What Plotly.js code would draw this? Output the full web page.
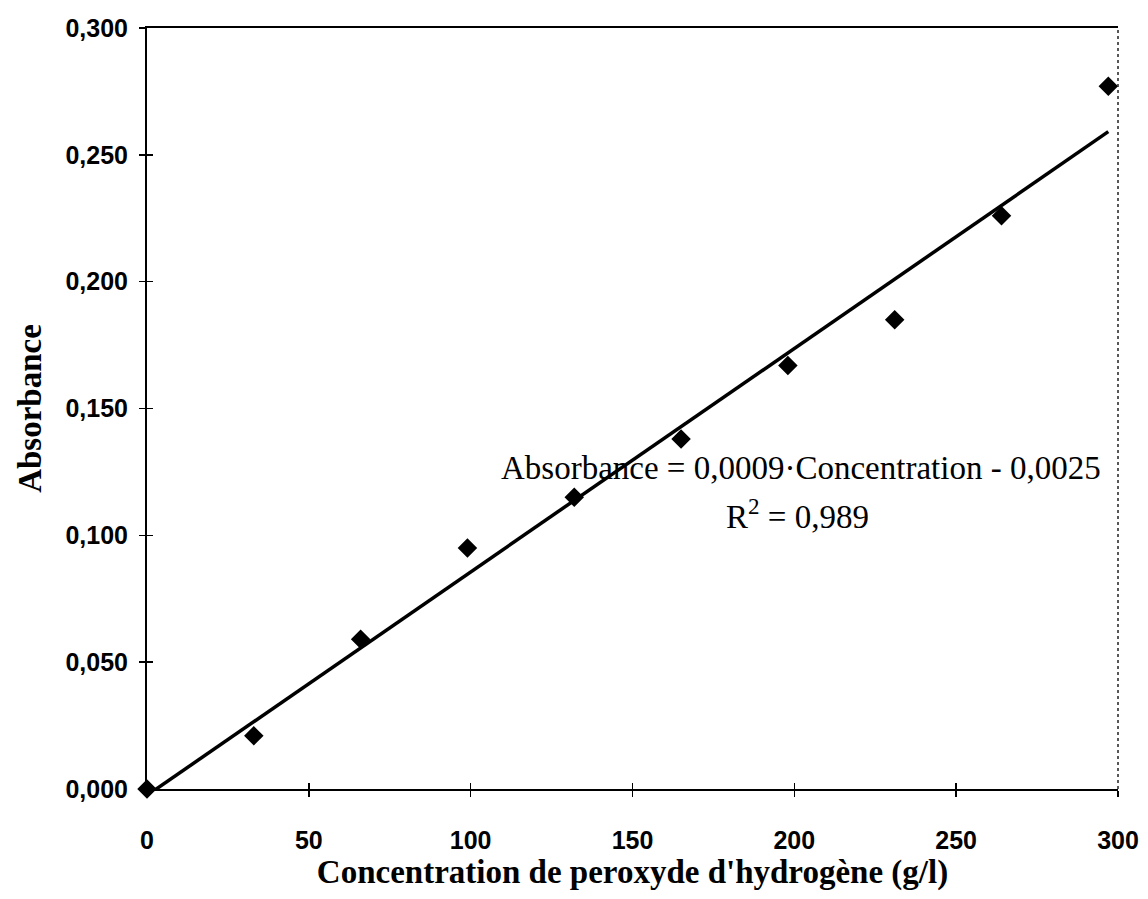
<!DOCTYPE html>
<html>
<head>
<meta charset="utf-8">
<script src="https://cdn.plot.ly/plotly-3.0.1.min.js"></script>
<style>html,body{margin:0;padding:0;background:#fff;}#chart{width:1148px;height:899px;}</style>
</head>
<body>
<div id="chart"></div>
<script>
// Data
var concentration = [0, 33, 66, 99, 132, 165, 198, 231, 264, 297];
var absorbance = [0.000, 0.021, 0.059, 0.095, 0.115, 0.138, 0.167, 0.185, 0.226, 0.277];
var xTickVals = [0, 50, 100, 150, 200, 250, 300];
var yTickVals = [0, 0.05, 0.10, 0.15, 0.20, 0.25, 0.30];
var equationText = "Absorbance = 0,0009·Concentration - 0,0025";
var r2Text = "R<sup>2</sup> = 0,989";
var xTitle = "Concentration de peroxyde d'hydrogène (g/l)";
var yTitle = "Absorbance";

// Least-squares linear trendline from the data
var n = concentration.length, sx = 0, sy = 0, sxx = 0, sxy = 0;
for (var i = 0; i < n; i++) {
  sx += concentration[i]; sy += absorbance[i];
  sxx += concentration[i] * concentration[i];
  sxy += concentration[i] * absorbance[i];
}
var slope = (n * sxy - sx * sy) / (n * sxx - sx * sx);
var intercept = (sy - slope * sx) / n;
var xFit = [concentration[0], concentration[n - 1]];
var yFit = xFit.map(function (x) { return slope * x + intercept; });

var traces = [
  {x: xFit, y: yFit, mode: 'lines', type: 'scatter',
   line: {color: '#000', width: 3.5}, hoverinfo: 'skip', showlegend: false},
  {x: concentration, y: absorbance, mode: 'markers', type: 'scatter',
   marker: {symbol: 'diamond', size: 15, color: '#000'}, showlegend: false, cliponaxis: false}
];

var tickFont = {family: 'Liberation Sans, Arial, sans-serif', size: 25, color: '#000', weight: 'bold'};
var titleFont = {family: 'Liberation Serif, Times New Roman, serif', size: 33, color: '#000', weight: 'bold'};
var annFont = {family: 'Liberation Serif, Times New Roman, serif', size: 33, color: '#000'};

var layout = {
  width: 1148, height: 899,
  margin: {l: 147, r: 30, t: 28, b: 110},
  paper_bgcolor: '#fff', plot_bgcolor: '#fff',
  separators: ', ',
  xaxis: {
    range: [0, 300], tickvals: xTickVals, ticks: 'outside', ticklen: 6, tickwidth: 1.5, tickcolor: '#000',
    showline: true, linecolor: '#000', linewidth: 2, mirror: true, showgrid: false, zeroline: false,
    tickfont: tickFont, ticklabelstandoff: 22,
    title: {text: xTitle, font: titleFont, standoff: 4}
  },
  yaxis: {
    range: [0, 0.3], tickvals: yTickVals, tickformat: '.3f', ticks: 'outside', ticklen: 6, tickwidth: 1.5, tickcolor: '#000',
    showline: true, linecolor: '#000', linewidth: 2, showgrid: false, zeroline: false,
    tickfont: tickFont, ticklabelstandoff: 6,
    title: {text: yTitle, font: titleFont, standoff: 14}
  },
  xaxis2: {overlaying: 'x', range: [0, 300], tickvals: xTickVals, ticks: 'inside', ticklen: 6, tickwidth: 1.5,
    tickcolor: '#000', showticklabels: false, showgrid: false, zeroline: false, showline: false, side: 'bottom'},
  yaxis2: {overlaying: 'y', range: [0, 0.3], tickvals: yTickVals, ticks: 'inside', ticklen: 6, tickwidth: 1.5,
    tickcolor: '#000', showticklabels: false, showgrid: false, zeroline: false, showline: false, side: 'left'},
  shapes: [
    {type: 'line', xref: 'paper', yref: 'paper', x0: 1, x1: 1, y0: 0, y1: 1,
     line: {color: '#222', width: 1.5, dash: 'dot'}}
  ],
  annotations: [
    {xref: 'x', yref: 'y', x: 202, y: 0.1265, text: equationText, showarrow: false,
     font: annFont, xanchor: 'center', yanchor: 'middle'},
    {xref: 'x', yref: 'y', x: 201, y: 0.1085, text: r2Text, showarrow: false,
     font: annFont, xanchor: 'center', yanchor: 'middle'}
  ]
};

// invisible trace so the overlay axes are drawn
traces.push({x: [0], y: [0], xaxis: 'x2', yaxis: 'y2', mode: 'markers', marker: {opacity: 0}, hoverinfo: 'skip', showlegend: false});

Plotly.newPlot('chart', traces, layout, {displayModeBar: false, staticPlot: true});
</script>
</body>
</html>
